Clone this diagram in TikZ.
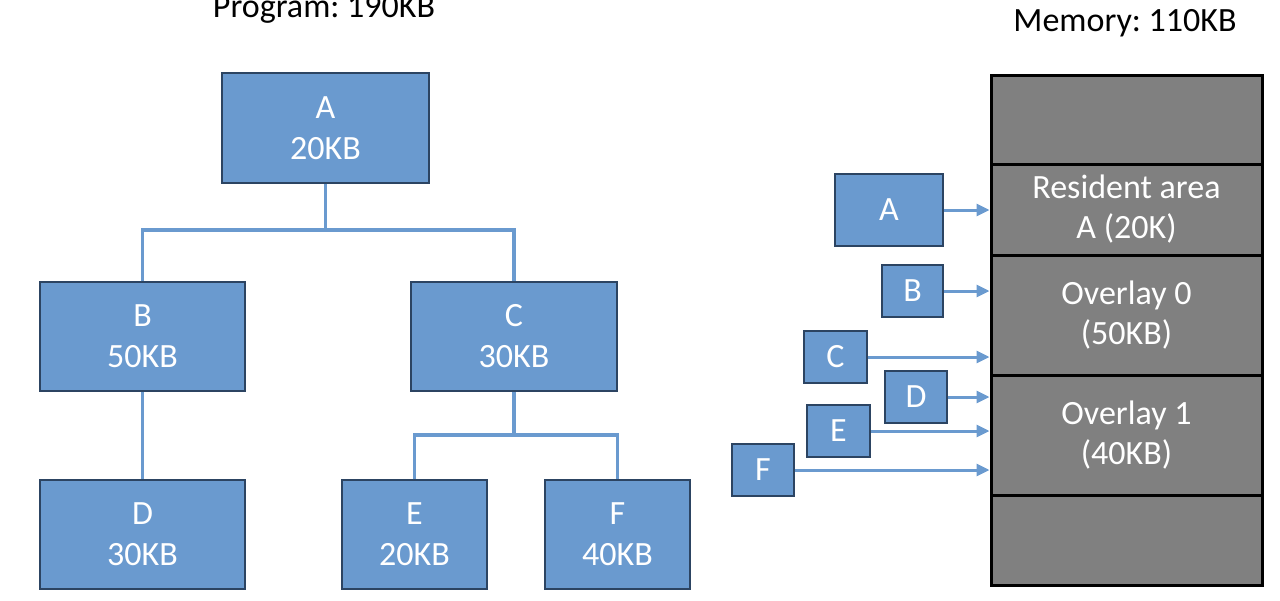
\documentclass[tikz,border=0pt]{standalone}
\usepackage{fontspec}
\setmainfont{Carlito}
\frenchspacing
\usetikzlibrary{arrows.meta}
\definecolor{boxblue}{RGB}{106,154,207}
\definecolor{boxedge}{RGB}{44,68,98}
\definecolor{memgray}{RGB}{128,128,128}
\tikzset{
  bigtxt/.style={font=\fontsize{34}{41}\selectfont},
  prog/.style={draw=boxedge, line width=1.5pt, fill=boxblue, text=white, bigtxt, align=center, inner sep=0pt},
  memseg/.style={draw=black, line width=3pt, fill=memgray, text=white, font=\fontsize{34}{40}\selectfont, align=center, inner sep=0pt, minimum width=271pt},
  link/.style={draw=boxblue, line width=3.5pt},
  arr/.style={draw=boxblue, line width=3pt, -{Triangle[length=13pt,width=12pt]}},
  title/.style={font=\fontsize{34}{40}\selectfont, anchor=base}
}
\begin{document}
\begin{tikzpicture}[x=1pt,y=-1pt]
\useasboundingbox (0,0) rectangle (1280,600);
% titles
\node[title] (tprog) at (324,17) {Program: 190KB};
\node[title] (tmem) at (1125,31) {Memory: 110KB};
% program tree
\node[prog, minimum width=207pt, minimum height=110pt] (A) at (325.5,128) {A\\20KB};
\node[prog, minimum width=205pt, minimum height=109pt] (B) at (142.5,336.5) {B\\50KB};
\node[prog, minimum width=206pt, minimum height=109pt] (C) at (514,336.5) {C\\30KB};
\node[prog, minimum width=205pt, minimum height=109pt] (D) at (142.5,534.5) {D\\30KB};
\node[prog, minimum width=145pt, minimum height=109pt] (E) at (414.5,534.5) {E\\20KB};
\node[prog, minimum width=145pt, minimum height=109pt] (F) at (617.5,534.5) {F\\40KB};
\coordinate (ja) at (325.5,230);
\coordinate (jc) at (514,435);
\draw[link] (A.south) -- (ja);
\draw[link] (B.north) |- (ja) -| (C.north);
\draw[link] (B.south) -- (D.north);
\draw[link] (C.south) -- (jc);
\draw[link] (E.north) |- (jc) -| (F.north);
% memory
\node[memseg, minimum height=89pt] (m0) at (1126.5,119.5) {};
\node[memseg, minimum height=91pt] (m1) at (1126.5,209.5) {Resident area\\A (20K)};
\node[memseg, minimum height=120pt] (m2) at (1126.5,315) {Overlay 0\\(50KB)};
\node[memseg, minimum height=120pt] (m3) at (1126.5,435) {Overlay 1\\(40KB)};
\node[memseg, minimum height=90pt] (m4) at (1126.5,540) {};
% small boxes
\node[prog, minimum width=108pt, minimum height=72pt] (sA) at (889,210) {A};
\node[prog, minimum width=61pt, minimum height=52pt] (sB) at (912.5,291) {B};
\node[prog, minimum width=63pt, minimum height=52pt] (sC) at (835.5,357) {C};
\node[prog, minimum width=62pt, minimum height=52pt] (sD) at (916,397) {D};
\node[prog, minimum width=63pt, minimum height=52pt] (sE) at (838.5,431) {E};
\node[prog, minimum width=62pt, minimum height=52pt] (sF) at (763,470) {F};
\draw[arr] (sA.east) -- (sA.east -| m1.west);
\draw[arr] (sB.east) -- (sB.east -| m2.west);
\draw[arr] (sC.east) -- (sC.east -| m2.west);
\draw[arr] (sD.east) -- (sD.east -| m3.west);
\draw[arr] (sE.east) -- (sE.east -| m3.west);
\draw[arr] (sF.east) -- (sF.east -| m3.west);
\end{tikzpicture}
\end{document}
